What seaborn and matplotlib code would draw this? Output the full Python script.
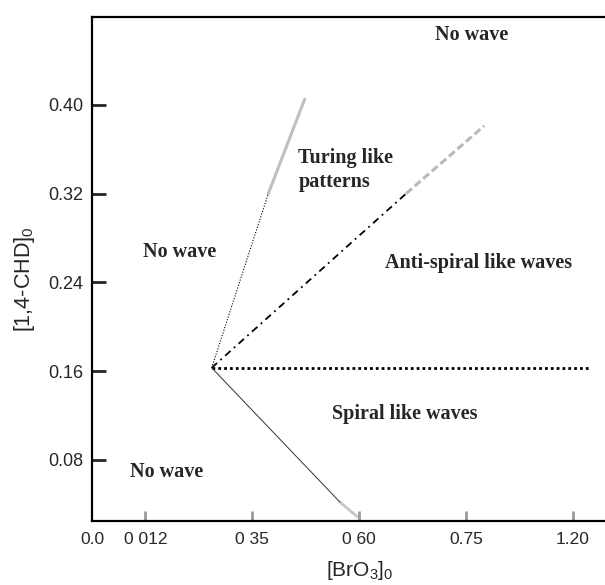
import pandas as pd
import seaborn as sns
import matplotlib.pyplot as plt

# --- Data ---
tick_labels = ["0.0", "0 012", "0 35", "0 60", "0.75", "1.20"]
tick_pos = [0.0, 0.5, 1.5, 2.5, 3.5, 4.5]
y_ticks = [0.08, 0.16, 0.24, 0.32, 0.40]

# boundary lines (x in tick-index units, y in [1,4-CHD]0)
turing_x = [1.12, 1.65]
turing_y = [0.163, 0.32]
turing_faint_x = [1.65, 1.99]
turing_faint_y = [0.32, 0.405]

anti_x = [1.12, 2.94]
anti_y = [0.163, 0.32]
anti_faint_x = [2.94, 3.67]
anti_faint_y = [0.32, 0.381]

flat_x = [1.12, 4.66]
flat_y = [0.163, 0.163]

spiral_x = [1.12, 2.32]
spiral_y = [0.163, 0.042]
spiral_faint_x = [2.32, 2.48]
spiral_faint_y = [0.042, 0.029]

regions = ["No wave", "Turing like\npatterns", "No wave",
           "Anti-spiral like waves", "Spiral like waves", "No wave"]
region_x = [3.55, 1.93, 0.82, 3.62, 2.93, 0.70]
region_y = [0.4625, 0.341, 0.2676, 0.2575, 0.1214, 0.069]
region_ha = ["center", "left", "center", "center", "center", "center"]

# --- Plot ---
sns.set_style("white")
plt.rcParams["font.family"] = ["Liberation Sans", "DejaVu Sans"]
plt.rcParams["mathtext.default"] = "regular"

fig = plt.figure(figsize=(6.05, 5.85), dpi=100)
ax = fig.add_axes([92 / 605, 64 / 585, 1 - 92 / 605, (521 - 17) / 585])

def seg(x, y, **kw):
    df = pd.DataFrame({"x": x, "y": y})
    sns.lineplot(data=df, x="x", y="y", ax=ax, sort=False, estimator=None, **kw)

# faint grey continuations
seg(turing_faint_x, turing_faint_y, color="#b0b0b0", linewidth=2.2, alpha=0.8)
seg(anti_faint_x, anti_faint_y, color="#a8a8a8", linewidth=2.2,
    linestyle=(0, (2.5, 1.2)), alpha=0.8)
seg(spiral_faint_x, spiral_faint_y, color="#b8b8b8", linewidth=2.0, alpha=0.8)

seg(turing_x, turing_y, color="black", linewidth=0.8, linestyle=(0, (1, 1.5)))
seg(anti_x, anti_y, color="black", linewidth=1.3, linestyle=(0, (4, 2.5, 1, 2.5)))
seg(flat_x, flat_y, color="black", linewidth=2.0, linestyle=(0, (1, 1.1)))
seg(spiral_x, spiral_y, color="#333333", linewidth=0.7)

for t, x, y, ha in zip(regions, region_x, region_y, region_ha):
    ax.text(x, y, t, ha=ha, va="center", fontsize=14.5, fontweight="bold",
            family=["Liberation Serif", "DejaVu Serif"], linespacing=1.25)

ax.set_xlim(0, 4.8)
ax.set_ylim(0.025, 0.479)
ax.set_xticks(tick_pos)
ax.set_xticklabels(tick_labels)
ax.set_yticks(y_ticks)
ax.set_yticklabels([f"{v:.2f}" for v in y_ticks])

ax.tick_params(axis="y", direction="in", length=10, width=2, labelsize=13, pad=6,
               left=True)
ax.tick_params(axis="x", direction="in", length=7, width=2, color="#9a9a9a",
               labelsize=12.5, pad=8, bottom=True)
ax.xaxis.get_major_ticks()[0].tick1line.set_visible(False)

ax.set_xlabel("[BrO$_3$]$_0$", fontsize=15)
ax.set_ylabel("[1,4-CHD]$_0$", fontsize=15.5)
ax.xaxis.set_label_coords(0.522, -0.076)
ax.yaxis.set_label_coords(-0.108, 0.48)

for side in ["left", "bottom", "top"]:
    ax.spines[side].set_visible(True)
    ax.spines[side].set_color("black")
    ax.spines[side].set_linewidth(1.6)
ax.spines["right"].set_visible(False)

fig.savefig("out.png", dpi=100)
plt.close(fig)
